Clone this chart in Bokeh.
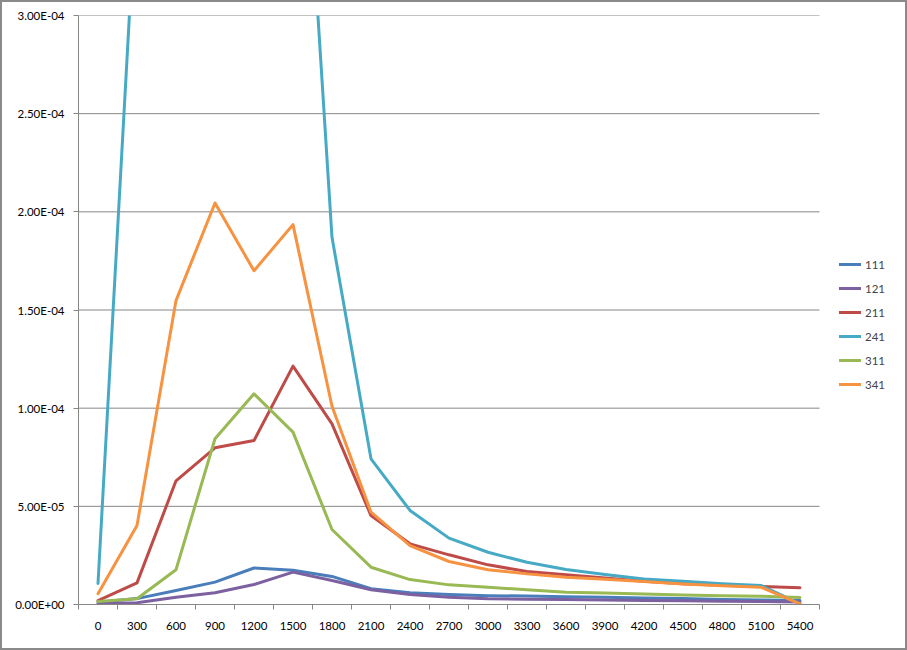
from bokeh.plotting import figure
from bokeh.models import Legend, LegendItem, FixedTicker, Range1d
from bokeh.embed import file_html
from bokeh.resources import INLINE

# ---- data ----
times = [0, 300, 600, 900, 1200, 1500, 1800, 2100, 2400, 2700, 3000,
         3300, 3600, 3900, 4200, 4500, 4800, 5100, 5400]
x_labels = [str(t) for t in times]

s111 = [1.2e-6, 3.0e-6, 7.1e-6, 1.14e-5, 1.86e-5, 1.74e-5, 1.43e-5, 8.0e-6, 6.0e-6, 5.1e-6,
        4.5e-6, 4.3e-6, 4.0e-6, 3.7e-6, 3.3e-6, 3.0e-6, 2.6e-6, 2.3e-6, 2.0e-6]
s121 = [0.5e-6, 0.9e-6, 3.7e-6, 6.0e-6, 1.02e-5, 1.65e-5, 1.22e-5, 7.5e-6, 5.1e-6, 3.7e-6,
        2.9e-6, 2.7e-6, 2.5e-6, 2.3e-6, 2.1e-6, 1.9e-6, 1.7e-6, 1.5e-6, 1.3e-6]
s211 = [2.0e-6, 1.1e-5, 6.3e-5, 7.98e-5, 8.35e-5, 1.214e-4, 9.2e-5, 4.53e-5, 3.09e-5, 2.53e-5,
        2.02e-5, 1.68e-5, 1.51e-5, 1.35e-5, 1.18e-5, 1.06e-5, 9.8e-6, 9.2e-6, 8.5e-6]
s241 = [1.07e-5, 3.7e-4, 5.8e-4, 6.4e-4, 5.9e-4, 5.0e-4, 1.87e-4, 7.42e-5, 4.79e-5, 3.38e-5,
        2.66e-5, 2.15e-5, 1.78e-5, 1.53e-5, 1.3e-5, 1.18e-5, 1.06e-5, 9.7e-6, 0.3e-6]
s311 = [1.5e-6, 2.9e-6, 1.77e-5, 8.44e-5, 1.073e-4, 8.78e-5, 3.82e-5, 1.9e-5, 1.27e-5, 1.0e-5,
        8.8e-6, 7.5e-6, 6.3e-6, 5.9e-6, 5.4e-6, 4.9e-6, 4.5e-6, 4.2e-6, 3.6e-6]
s341 = [5.5e-6, 4.02e-5, 1.548e-4, 2.045e-4, 1.70e-4, 1.935e-4, 1.01e-4, 4.7e-5, 3.0e-5, 2.19e-5,
        1.77e-5, 1.56e-5, 1.39e-5, 1.28e-5, 1.17e-5, 1.05e-5, 9.5e-6, 8.8e-6, 0.3e-6]

series_names = ["111", "121", "211", "241", "311", "341"]
series_values = [s111, s121, s211, s241, s311, s341]
series_colors = ["#4A7EBB", "#7D60A0", "#BE4B48", "#46AAC5", "#98B954", "#F69240"]

y_ticks = [0.0, 5e-05, 1e-04, 1.5e-04, 2e-04, 2.5e-04, 3e-04]
y_labels = ["0.00E+00", "5.00E-05", "1.00E-04", "1.50E-04", "2.00E-04", "2.50E-04", "3.00E-04"]

FONT = "Lato"
GRAY = "#868686"

# layout (pixels)
W, H = 907, 650
LEFT, TOP, BOTTOM = 76, 13, 48
PLOT_PX = 741          # width of the plotting area (axis extent)
FRAME_PX = W - LEFT    # frame extends under the legend

step = times[1] - times[0]
x0 = times[0] - step / 2
x1 = times[-1] + step / 2
x_end = x0 + (x1 - x0) * FRAME_PX / PLOT_PX

p = figure(width=W, height=H, output_backend="svg", toolbar_location=None,
           x_range=Range1d(x0, x_end),
           y_range=Range1d(y_ticks[0], y_ticks[-1]),
           min_border_left=LEFT, min_border_right=0, min_border_top=TOP, min_border_bottom=BOTTOM)
p.styles = {"border": "2px solid #8a8a8a"}
p.outline_line_color = None
p.background_fill_color = "white"
p.border_fill_color = "white"

# x axis: labels at category centres, tick marks between categories
boundaries = [t - step / 2 for t in times] + [x1]
p.xaxis.ticker = FixedTicker(ticks=times, minor_ticks=boundaries)
p.xaxis.bounds = (x0, x1)
p.xaxis.major_label_overrides = {t: lab for t, lab in zip(times, x_labels)}
p.xaxis.major_tick_out = 0
p.xaxis.major_tick_in = 0
p.xaxis.minor_tick_out = 5
p.xaxis.minor_tick_in = 0
p.xaxis.minor_tick_line_color = GRAY
p.xaxis.major_label_standoff = 12

# y axis
p.yaxis.ticker = FixedTicker(ticks=y_ticks)
p.yaxis.major_label_overrides = {t: lab for t, lab in zip(y_ticks, y_labels)}
p.yaxis.major_tick_out = 5
p.yaxis.major_tick_in = 0
p.yaxis.minor_tick_line_color = None
p.yaxis.major_label_standoff = 9

for ax in (p.xaxis, p.yaxis):
    ax.axis_line_color = GRAY
    ax.major_tick_line_color = GRAY
    ax.major_label_text_font = FONT
    ax.major_label_text_font_size = "11.5px"
    ax.major_label_text_color = "#000000"

# horizontal gridlines limited to the plotting area
p.xgrid.visible = False
p.ygrid.visible = False
p.segment(x0=[x0] * len(y_ticks[1:]), x1=[x1] * len(y_ticks[1:]), y0=y_ticks[1:], y1=y_ticks[1:],
          line_color=GRAY, line_width=1)

items = []
for name, vals, col in zip(series_names, series_values, series_colors):
    r = p.line(times, vals, line_color=col, line_width=3, line_join="round", line_cap="round")
    items.append(LegendItem(label=name, renderers=[r]))

legend = Legend(items=items, location=(761, 210), glyph_width=22, glyph_height=20, spacing=4,
                padding=10, label_standoff=4, margin=0,
                label_text_font=FONT, label_text_font_size="11.5px",
                border_line_color=None, background_fill_alpha=0)
p.add_layout(legend, "center")

open("out.html", "w").write(file_html(p, INLINE))
